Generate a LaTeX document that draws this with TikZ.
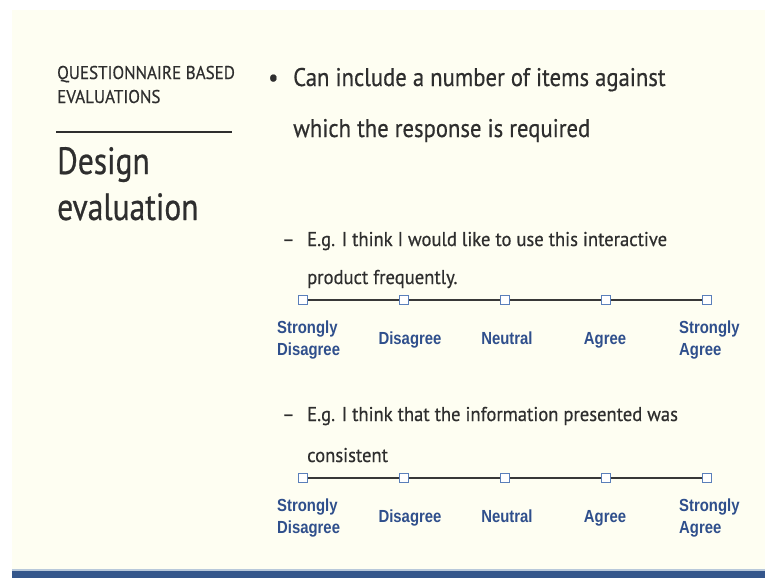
\documentclass[tikz,border=0pt]{standalone}
\usepackage{fontspec}
\setmainfont{PT Sans}
\newfontfamily\bodyfont[FakeStretch=0.89,FakeBold=0.5]{PT Sans}
\newfontfamily\subfont[FakeStretch=0.93,FakeBold=0.5]{PT Sans}
\newfontfamily\headfont[FakeStretch=0.92,FakeBold=0.5]{PT Sans}
\newfontfamily\titlefont[FakeStretch=0.83,FakeBold=0.6]{PT Sans}
\newfontfamily\labelfont[FakeStretch=0.85]{Liberation Sans}
\definecolor{cream}{HTML}{FEFEF2}
\definecolor{txt}{HTML}{2E2E2E}
\definecolor{lblue}{HTML}{2F4F8C}
\definecolor{sqblue}{HTML}{5A7FBA}
\definecolor{barblue}{HTML}{34568B}
\definecolor{barlight}{HTML}{B8C8DA}
\begin{document}
\begin{tikzpicture}[x=1pt,y=-1pt,
  bodytxt/.style={anchor=base west,inner sep=0pt,text=txt,font=\bodyfont\fontsize{25.5}{30}\selectfont},
  subtxt/.style={anchor=base west,inner sep=0pt,text=txt,font=\subfont\fontsize{20}{24}\selectfont},
  headtxt/.style={anchor=base west,inner sep=0pt,text=txt,font=\headfont\fontsize{18.5}{22}\selectfont},
  titletxt/.style={anchor=base west,inner sep=0pt,text=txt,font=\titlefont\fontsize{38}{44}\selectfont},
  lbl/.style={inner sep=0pt,text=lblue,font=\labelfont\bfseries\fontsize{17.5}{22}\selectfont},
  sq/.style={draw=sqblue,fill=white,line width=1.3pt,minimum size=9pt,inner sep=0pt},
  scaleline/.style={draw=txt!95,line width=1.8pt}]
\useasboundingbox (0,0) rectangle (765,578);
\fill[white] (0,0) rectangle (765,578);
\fill[cream] (12,10) rectangle (765,578);
\fill[barlight] (12,569) rectangle (765,571);
\fill[barblue] (12,571) rectangle (765,578);

% left header
\node[headtxt] (h1) at (57,79) {QUESTIONNAIRE BASED};
\node[headtxt] (h2) at (57,103) {EVALUATIONS};
\coordinate (r1) at (56,132);
\coordinate (r2) at (232,132);
\draw[txt,line width=1.3pt] (r1) -- (r2);
\node[titletxt] (t1) at (57,174) {Design};
\node[titletxt] (t2) at (57,220) {evaluation};

% bullet
\node[bodytxt] (b0) at (268,86) {•};
\node[bodytxt] (b1) at (293,86) {Can include a number of items against};
\node[bodytxt] (b2) at (293,137) {which the response is required};

% first sub-item
\node[subtxt] (d1) at (282,246) {–};
\node[subtxt] (s1a) at (307,246) {E.g. I think I would like to use this interactive};
\node[subtxt] (s1b) at (307,284) {product frequently.};

% first scale
\node[sq] (a1) at (303,300) {};
\node[sq] (a2) at (404,300) {};
\node[sq] (a3) at (505,300) {};
\node[sq] (a4) at (606,300) {};
\node[sq] (a5) at (707,300) {};
\draw[scaleline] (a1) -- (a2);
\draw[scaleline] (a2) -- (a3);
\draw[scaleline] (a3) -- (a4);
\draw[scaleline] (a4) -- (a5);
\node[lbl,anchor=base west] (la1) at (277,333) {Strongly};
\node[lbl,anchor=base west] (la1b) at (277,355) {Disagree};
\node[lbl,anchor=base] (la2) at (410,344) {Disagree};
\node[lbl,anchor=base] (la3) at (507,344) {Neutral};
\node[lbl,anchor=base] (la4) at (605,344) {Agree};
\node[lbl,anchor=base west] (la5) at (679,333) {Strongly};
\node[lbl,anchor=base west] (la5b) at (679,355) {Agree};

% second sub-item
\node[subtxt] (d2) at (282,421) {–};
\node[subtxt] (s2a) at (307,421) {E.g. I think that the information presented was};
\node[subtxt] (s2b) at (307,462) {consistent};

% second scale
\node[sq] (c1) at (303,478) {};
\node[sq] (c2) at (404,478) {};
\node[sq] (c3) at (505,478) {};
\node[sq] (c4) at (606,478) {};
\node[sq] (c5) at (707,478) {};
\draw[scaleline] (c1) -- (c2);
\draw[scaleline] (c2) -- (c3);
\draw[scaleline] (c3) -- (c4);
\draw[scaleline] (c4) -- (c5);
\node[lbl,anchor=base west] (lc1) at (277,511) {Strongly};
\node[lbl,anchor=base west] (lc1b) at (277,533) {Disagree};
\node[lbl,anchor=base] (lc2) at (410,522) {Disagree};
\node[lbl,anchor=base] (lc3) at (507,522) {Neutral};
\node[lbl,anchor=base] (lc4) at (605,522) {Agree};
\node[lbl,anchor=base west] (lc5) at (679,511) {Strongly};
\node[lbl,anchor=base west] (lc5b) at (679,533) {Agree};
\end{tikzpicture}
\end{document}
